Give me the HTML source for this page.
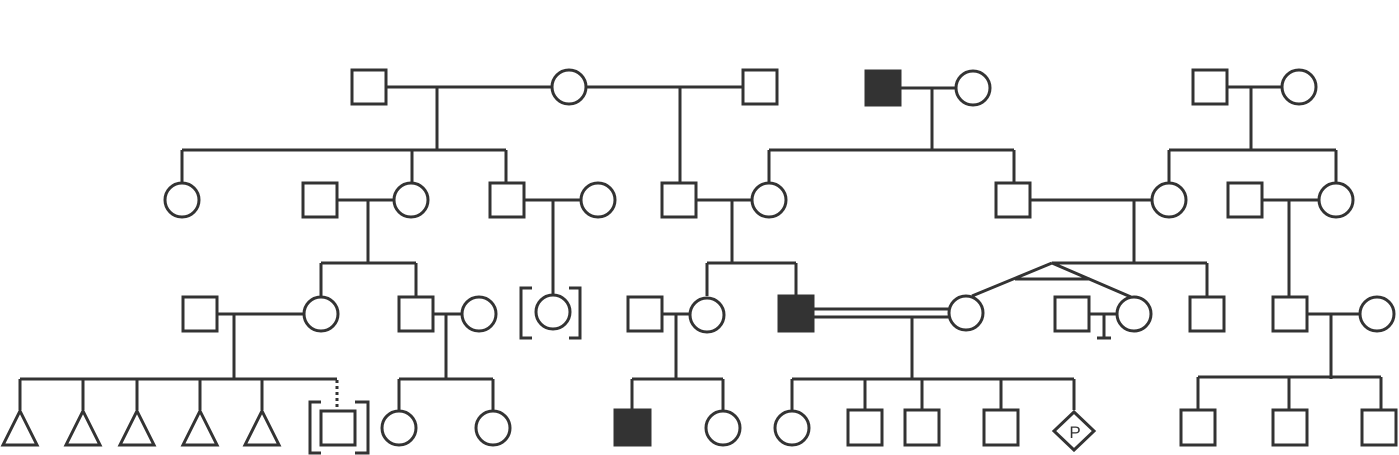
<!DOCTYPE html>
<html><head><meta charset="utf-8"><style>html,body{margin:0;padding:0;background:#fff}svg{display:block}</style></head>
<body>
<svg width="1399" height="455" viewBox="0 0 1399 455" xmlns="http://www.w3.org/2000/svg">
<rect width="1399" height="455" fill="#fff"/>
<g fill="none" stroke="#333" stroke-width="3">
<!-- connectors row1 -->
<path d="M387 87H552M586 87H743M437 87V150M680 87V183M901 88H956M932 88V150M1228 87H1282M1251 87V150"/>
<!-- sibling bars row2 -->
<path d="M182 150H506M182 150V183M412 150V183M506 150V183M769 150H1014M769 150V183M1014 150V183M1169 150H1336M1169 150V183M1336 150V183"/>
<!-- couples row2 -->
<path d="M338 200H394M368 200V263M525 200H581M553 200V295M697 200H752M732 200V263M1031 200H1152M1134 200V263M1262 200H1319M1289 200V296"/>
<!-- row3 bars -->
<path d="M321 263H416M321 263V296M416 263V296M707 263H796M707 263V296M796 263V296M1052 263H1207M1207 263V296M1052 263L972 296M1052 263L1131 297M1015 279H1090"/>
<!-- couples row3 -->
<path d="M218 314H304M234 314V379M434 314H462M446 314V379M663 314H690M676 314V379M814 309H950M814 317H950M912 317V379M1090 314H1117M1104 314V338M1097 338H1111M1307 314H1361M1331 314V379"/>
<!-- row4 bars -->
<path d="M20 379H337M20 379V410M83 379V410M137 379V410M200 379V410M262 379V410M399 379H493M399 379V411M493 379V411M632 379H723M632 379V410M723 379V411M792 379H1074M792 379V411M865 379V410M922 379V410M1001 379V410M1074 379V410M1198 377H1381M1198 377V410M1289 377V410M1381 377V410"/>
<path d="M337 380V409" stroke-dasharray="3,3"/>
<!-- row1 -->
<rect x="352" y="70" width="34" height="34"/>
<circle cx="569" cy="87" r="17"/>
<rect x="743" y="70" width="34" height="34"/>
<rect x="866" y="71" width="34" height="34" fill="#333"/>
<circle cx="973" cy="88" r="17"/>
<rect x="1193" y="70" width="34" height="34"/>
<circle cx="1299" cy="87" r="17"/>
<!-- row2 -->
<circle cx="182" cy="200" r="17"/>
<rect x="303" y="183" width="34" height="34"/>
<circle cx="411" cy="200" r="17"/>
<rect x="490" y="183" width="34" height="34"/>
<circle cx="598" cy="200" r="17"/>
<rect x="662" y="183" width="34" height="34"/>
<circle cx="769" cy="200" r="17"/>
<rect x="996" y="183" width="34" height="34"/>
<circle cx="1169" cy="200" r="17"/>
<rect x="1228" y="183" width="34" height="34"/>
<circle cx="1336" cy="200" r="17"/>
<!-- row3 -->
<rect x="183" y="297" width="34" height="34"/>
<circle cx="321" cy="314" r="17"/>
<rect x="399" y="297" width="34" height="34"/>
<circle cx="479" cy="314" r="17"/>
<circle cx="553" cy="312" r="17"/>
<path d="M532 288H521V338H532M569 288H580V338H569"/>
<rect x="628" y="297" width="34" height="34"/>
<circle cx="707" cy="315" r="17"/>
<rect x="779" y="296" width="34" height="35" fill="#333"/>
<circle cx="966" cy="313" r="17"/>
<rect x="1055" y="297" width="34" height="34"/>
<circle cx="1134" cy="314" r="17"/>
<rect x="1190" y="297" width="34" height="34"/>
<rect x="1273" y="297" width="34" height="34"/>
<circle cx="1377" cy="314" r="17"/>
<!-- row4 -->
<path d="M20 411L37 445H3Z M83 411L100 445H66Z M137 411L154 445H120Z M200 411L217 445H183Z M262 411L279 445H245Z"/>
<rect x="321" y="411" width="34" height="34"/>
<path d="M321 402H310V453H321M355 402H368V453H355"/>
<circle cx="399" cy="428" r="17"/>
<circle cx="493" cy="428" r="17"/>
<rect x="615" y="410" width="35" height="35" fill="#333"/>
<circle cx="723" cy="428" r="17"/>
<circle cx="792" cy="428" r="17"/>
<rect x="848" y="410" width="34" height="35"/>
<rect x="905" y="410" width="34" height="35"/>
<rect x="984" y="410" width="34" height="35"/>
<path d="M1074 412L1094 431L1074 450L1054 431Z"/>
<rect x="1181" y="410" width="34" height="35"/>
<rect x="1273" y="410" width="34" height="35"/>
<rect x="1362" y="410" width="34" height="35"/>
</g>
<text x="1075" y="438" font-family="Liberation Sans, sans-serif" font-size="17" fill="#333" text-anchor="middle">P</text>
</svg>
</body></html>
